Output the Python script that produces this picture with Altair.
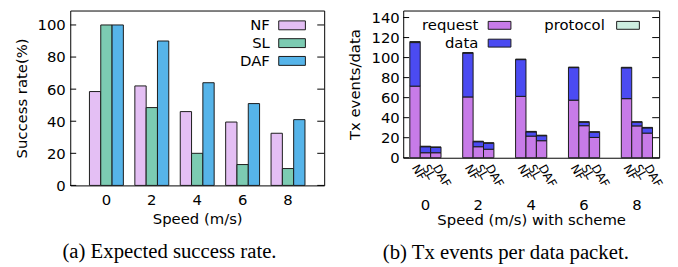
import altair as alt
import pandas as pd

speeds = ["0", "2", "4", "6", "8"]
schemes = ["NF", "SL", "DAF"]

# (a) success rate (%)
succ_nf = [58.5, 62, 46, 39.5, 32.5]
succ_sl = [100, 48.5, 20, 13, 10.5]
succ_daf = [100, 90, 64, 51, 41]

# (b) Tx events per data packet, stacked: request / data / protocol
req_nf = [71.5, 60.7, 61.3, 57.5, 59]
req_sl = [5, 11, 21.6, 32, 31.8]
req_daf = [5, 8.5, 17, 20.3, 24.6]
data_nf = [43.5, 43.8, 36.7, 32.5, 30.8]
data_sl = [6, 5, 4.2, 3.5, 3.7]
data_daf = [5.3, 6, 5, 5.2, 5.2]
prot_nf = [1, 0.5, 0.5, 0.5, 0.5]
prot_sl = [0.5, 0.5, 0.5, 0.5, 0.5]
prot_daf = [0.5, 0.5, 0.5, 0.5, 0.5]

left_ticks = [0, 20, 40, 60, 80, 100]
right_ticks = [0, 20, 40, 60, 80, 100, 120, 140]

types = ["request", "data", "protocol"]
type_order = {"request": 0, "data": 1, "protocol": 2}

left_colors = ["#e4bff4", "#7ccbb2", "#56b4e9"]
right_colors = ["#c77be8", "#4b4bf2", "#cdeee0"]

FONT = "DejaVu Sans"
FS = 15
EDGE = "#1a1a1a"

# ---------- data tables ----------
rows = []
for s, vals in zip(schemes, [succ_nf, succ_sl, succ_daf]):
    for sp, v in zip(speeds, vals):
        rows.append({"speed": sp, "scheme": s, "value": v})
left_df = pd.DataFrame(rows)

rows = []
series = {
    "NF": {"request": req_nf, "data": data_nf, "protocol": prot_nf},
    "SL": {"request": req_sl, "data": data_sl, "protocol": prot_sl},
    "DAF": {"request": req_daf, "data": data_daf, "protocol": prot_daf},
}
for s in schemes:
    for t in types:
        for sp, v in zip(speeds, series[s][t]):
            rows.append({"speed": sp, "scheme": s, "type": t, "ord": type_order[t], "value": v})
right_df = pd.DataFrame(rows)
label_df = right_df[right_df["type"] == "request"]


def legend_entry(label, color, text_right, sx0, sx1, yc, h):
    d = pd.DataFrame({"label": [label]})
    txt = alt.Chart(d).mark_text(align="right", baseline="middle", font=FONT,
                                 fontSize=FS, color="black").encode(
        x=alt.value(text_right), y=alt.value(yc), text="label:N")
    box = alt.Chart(d).mark_rect(fill=color, stroke=EDGE, strokeWidth=1).encode(
        x=alt.value(sx0), x2=alt.value(sx1), y=alt.value(yc - h / 2), y2=alt.value(yc + h / 2))
    return [txt, box]


# ---------- left chart ----------
LW, LH = 257, 177
lx = alt.X("speed:N", sort=speeds,
           scale=alt.Scale(paddingInner=0.253, paddingOuter=0.423),
           axis=alt.Axis(title="Speed (m/s)", labelAngle=0, labelPadding=7, titlePadding=5))
lxo = alt.XOffset("scheme:N", sort=schemes, scale=alt.Scale(paddingInner=0, paddingOuter=0))
ly = alt.Y("value:Q", scale=alt.Scale(domain=[0, 109], nice=False, zero=True),
           axis=alt.Axis(title="Success rate(%)", values=left_ticks, labelPadding=5, titlePadding=8))

left_bars = alt.Chart(left_df).mark_bar(stroke=EDGE, strokeWidth=1, opacity=1).encode(
    x=lx, xOffset=lxo, y=ly,
    fill=alt.Fill("scheme:N", sort=schemes,
                  scale=alt.Scale(domain=schemes, range=left_colors), legend=None),
)
ltick_df = pd.DataFrame({"value": left_ticks})
left_tl = alt.Chart(ltick_df).mark_rule(color="black").encode(
    y=ly, x=alt.value(0), x2=alt.value(6))
left_tr = alt.Chart(ltick_df).mark_rule(color="black").encode(
    y=ly, x=alt.value(LW - 7), x2=alt.value(LW))

left_leg = []
for i, (s, c) in enumerate(zip(schemes, left_colors)):
    left_leg += legend_entry(s, c, 202, 211, 238, 15 + 18 * i, 9)

left = alt.layer(left_bars, left_tl, left_tr, *left_leg).properties(
    width=LW, height=LH,
    title=alt.TitleParams("(a) Expected success rate.", orient="bottom", anchor="middle",
                          frame="bounds", font="Liberation Serif", fontSize=21,
                          fontWeight="normal", color="black", offset=14))

# ---------- right chart ----------
RW, RH = 259, 149
rx = alt.X("speed:N", sort=speeds,
           scale=alt.Scale(paddingInner=0.41, paddingOuter=0.125),
           axis=alt.Axis(title="Speed (m/s) with scheme", labelAngle=0, labelPadding=40,
                         titlePadding=1))
rxo = alt.XOffset("scheme:N", sort=schemes, scale=alt.Scale(paddingInner=0, paddingOuter=0))
ry = alt.Y("value:Q", scale=alt.Scale(domain=[0, 147], nice=False, zero=True),
           axis=alt.Axis(title="Tx events/data", values=right_ticks, labelPadding=4, titlePadding=9),
           stack="zero")

right_bars = alt.Chart(right_df).mark_bar(stroke=EDGE, strokeWidth=1, opacity=1).encode(
    x=rx, xOffset=rxo, y=ry,
    order=alt.Order("ord:Q"),
    fill=alt.Fill("type:N",
                  scale=alt.Scale(domain=types, range=right_colors), legend=None),
)
rtick_df = pd.DataFrame({"value": right_ticks})
ry_plain = alt.Y("value:Q", scale=alt.Scale(domain=[0, 147], nice=False, zero=True),
                 axis=alt.Axis(title="Tx events/data", values=right_ticks, labelPadding=4,
                               titlePadding=9))
right_tl = alt.Chart(rtick_df).mark_rule(color="black").encode(
    y=ry_plain, x=alt.value(0), x2=alt.value(6))
right_tr = alt.Chart(rtick_df).mark_rule(color="black").encode(
    y=ry_plain, x=alt.value(RW - 7), x2=alt.value(RW))

scheme_labels = alt.Chart(label_df).mark_text(
    angle=60, align="left", baseline="middle", font=FONT, fontSize=12, color="black"
).encode(x=rx, xOffset=rxo, y=alt.value(RH + 8), text="scheme:N")

right_leg = []
right_leg += legend_entry("request", right_colors[0], 76, 86, 109, 15, 8)
right_leg += legend_entry("data", right_colors[1], 76, 86, 109, 33, 8)
right_leg += legend_entry("protocol", right_colors[2], 204, 216, 239, 15, 8)

right = alt.layer(right_bars, right_tl, right_tr, scheme_labels, *right_leg).properties(
    width=RW, height=RH,
    title=alt.TitleParams("(b) Tx events per data packet.", orient="bottom", anchor="middle",
                          frame="bounds", font="Liberation Serif", fontSize=21,
                          fontWeight="normal", color="black", offset=14))

chart = alt.hconcat(left, right, spacing=21).resolve_scale(
    fill="independent", xOffset="independent", x="independent", y="independent"
).properties(
    padding={"left": 5, "top": 0, "right": 5, "bottom": 0}
).configure_axis(
    labelFont=FONT, labelFontSize=FS, labelColor="black",
    titleFont=FONT, titleFontSize=FS, titleColor="black", titleFontWeight="normal",
    ticks=False, domain=False, grid=False
).configure_view(stroke="black", strokeWidth=1)

chart.save("out.html", embed_options={"renderer": "svg", "actions": False})
